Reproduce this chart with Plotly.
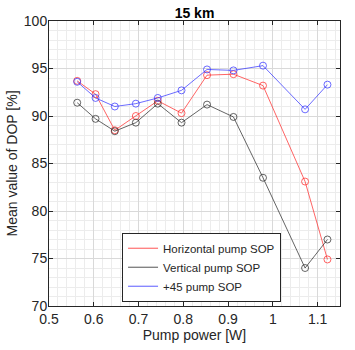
import plotly.graph_objects as go

pump_power = [0.563, 0.604, 0.647, 0.694, 0.743, 0.796, 0.853, 0.912, 0.978, 1.072, 1.122]
horizontal = [93.7, 92.3, 88.5, 90.0, 91.6, 90.3, 94.3, 94.4, 93.2, 83.1, 74.9]
vertical = [91.4, 89.7, 88.4, 89.3, 91.3, 89.3, 91.2, 89.9, 83.5, 74.0, 77.0]
plus45 = [93.6, 91.9, 91.0, 91.3, 91.9, 92.7, 94.9, 94.8, 95.3, 90.7, 93.3]

series = [
    ("Horizontal pump SOP", horizontal, "rgba(255,40,40,0.8)"),
    ("Vertical pump SOP", vertical, "rgba(40,40,40,0.8)"),
    ("+45 pump SOP", plus45, "rgba(50,50,255,0.8)"),
]

fig = go.Figure()
for name, vals, col in series:
    fig.add_trace(go.Scatter(
        x=pump_power, y=vals, mode="lines+markers", showlegend=False,
        line=dict(color=col, width=0.9),
        marker=dict(symbol="circle-open", size=7, color=col, line=dict(width=0.9)),
    ))
for name, vals, col in series:
    fig.add_trace(go.Scatter(
        x=[None], y=[None], mode="lines", name=name,
        line=dict(color=col, width=1),
    ))

font = "Liberation Sans, Arial, sans-serif"
axis_common = dict(
    showline=True, linecolor="#262626", linewidth=1, mirror="ticks",
    ticks="inside", ticklen=4, tickcolor="#262626",
    showgrid=True, gridcolor="#d9d9d9", gridwidth=1,
    zeroline=False, automargin=False,
    tickfont=dict(family=font, size=14, color="#262626"),
)
fig.update_xaxes(
    **axis_common, range=[0.5, 1.15],
    tickvals=[0.5, 0.6, 0.7, 0.8, 0.9, 1.0, 1.1],
    ticktext=["0.5", "0.6", "0.7", "0.8", "0.9", "1", "1.1"],
    minor=dict(dtick=0.02, tick0=0.5, showgrid=True, gridcolor="#ececec", ticks=""),
    title=dict(text="Pump power [W]", font=dict(family=font, size=14, color="#262626"), standoff=4),
)
fig.update_yaxes(
    **axis_common, range=[70, 100], tick0=70, dtick=5,
    ticklabelstandoff=-2,
    minor=dict(dtick=1, tick0=70, showgrid=True, gridcolor="#ececec", ticks=""),
    title=dict(text="Mean value of DOP [%]", font=dict(family=font, size=14, color="#262626"), standoff=2),
)
fig.update_layout(
    width=355, height=350,
    margin=dict(l=49, r=15, t=21, b=44),
    plot_bgcolor="white", paper_bgcolor="white",
    title=dict(text="<b>15 km</b>", x=0.5, xanchor="center", xref="paper",
               y=0.963, yanchor="middle", font=dict(family=font, size=14, color="black")),
    legend=dict(x=0.251, y=0.015, xanchor="left", yanchor="bottom",
                bgcolor="white", bordercolor="#262626", borderwidth=1,
                font=dict(family=font, size=11.5, color="#262626"),
                tracegroupgap=0, itemwidth=30),
    showlegend=True,
)
fig.write_html("out.html")
